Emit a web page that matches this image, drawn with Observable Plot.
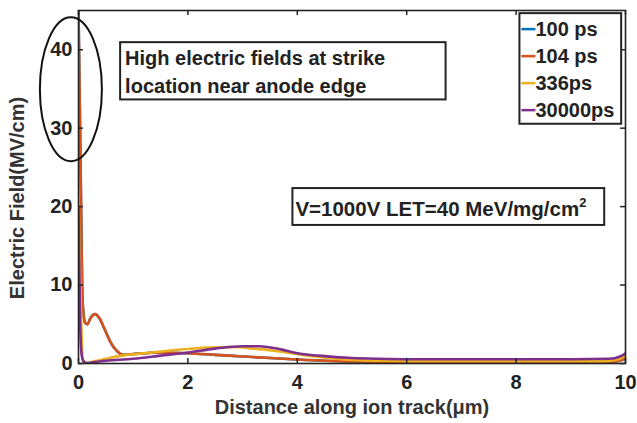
<!DOCTYPE html>
<html><head><meta charset="utf-8">
<script src="https://cdn.jsdelivr.net/npm/d3@7"></script>
<script src="https://cdn.jsdelivr.net/npm/@observablehq/plot@0.6"></script>
<style>body{margin:0;background:#fff} #chart{width:637px;height:423px}</style>
</head><body><div id="chart"></div>
<script>
// ---- data ----
const seriesNames = ["100 ps", "104 ps", "336ps", "30000ps"];
const seriesColors = ["#0072BD", "#D95319", "#EDB120", "#7E2F8E"];

const x100 = [0, 0.035, 0.075, 0.12, 0.16, 0.22, 0.3, 0.38, 0.47, 0.58, 0.7, 0.82, 1.0, 1.5, 2.0, 2.5, 3.0, 3.5, 3.9, 4.5, 5, 6, 7, 8, 9, 9.6, 9.85, 10];
const y100 = [45, 27, 8, 5.2, 5.0, 5.8, 6.3, 5.8, 4.5, 2.8, 1.6, 1.1, 1.2, 1.4, 1.3, 1.1, 0.9, 0.7, 0.55, 0.35, 0.25, 0.2, 0.2, 0.2, 0.2, 0.2, 0.3, 0.6];

const x104 = [0, 0.035, 0.075, 0.12, 0.16, 0.22, 0.3, 0.38, 0.47, 0.58, 0.7, 0.82, 1.0, 1.5, 2.0, 2.5, 3.0, 3.5, 3.9, 4.5, 5, 6, 7, 8, 9, 9.6, 9.85, 10];
const y104 = [45, 27, 8, 5.2, 5.0, 5.8, 6.3, 5.8, 4.5, 2.8, 1.6, 1.1, 1.2, 1.4, 1.3, 1.1, 0.9, 0.7, 0.55, 0.35, 0.25, 0.2, 0.2, 0.2, 0.2, 0.2, 0.3, 0.6];

const x336 = [0, 0.04, 0.08, 0.15, 0.3, 0.5, 0.8, 1.2, 1.6, 2.0, 2.5, 2.8, 3.2, 3.6, 3.9, 4.3, 4.8, 5.5, 6, 7, 8, 9, 9.6, 9.85, 10];
const y336 = [21, 8, 0.5, 0.1, 0.3, 0.6, 1.0, 1.3, 1.6, 1.85, 2.05, 2.1, 1.9, 1.6, 1.3, 0.9, 0.55, 0.35, 0.3, 0.3, 0.3, 0.3, 0.3, 0.5, 1.0];

const x30000 = [0, 0.03, 0.06, 0.1, 0.15, 0.3, 0.5, 1.0, 1.5, 2.0, 2.5, 3.0, 3.3, 3.7, 4.0, 4.4, 5.0, 5.5, 6, 7, 8, 9, 9.7, 9.9, 10];
const y30000 = [20, 5, 1, 0.2, 0.05, 0.2, 0.35, 0.6, 1.0, 1.4, 1.9, 2.2, 2.2, 1.8, 1.3, 1.0, 0.7, 0.6, 0.55, 0.55, 0.55, 0.55, 0.6, 0.9, 1.3];

const xTicks = [0, 2, 4, 6, 8, 10];
const yTicks = [0, 10, 20, 30, 40];
const xLabel = "Distance along ion track(\u03BCm)";
const yLabel = "Electric Field(MV/cm)";
const note1 = ["High electric fields at strike", "location near anode edge"];
const note2 = "V=1000V LET=40 MeV/mg/cm";

// build a long table for the library
const xs = [x100, x104, x336, x30000];
const ys = [y100, y104, y336, y30000];
const rows = [];
seriesNames.forEach((s, i) => xs[i].forEach((x, j) => rows.push({series: s, x, y: ys[i][j]})));

const FONT = "Liberation Sans, Arial, Helvetica, sans-serif";
const ink = "#222";

const chart = Plot.plot({
  width: 637, height: 423,
  marginLeft: 78, marginRight: 12, marginTop: 10, marginBottom: 60,
  x: {domain: [0, 10]},
  y: {domain: [0, 45]},
  color: {domain: seriesNames, range: seriesColors},
  style: {fontFamily: FONT, background: "#fff", color: ink},
  marks: [
    Plot.line(rows, {x: "x", y: "y", z: "series", stroke: "series", strokeWidth: 2.6, curve: "monotone-x", clip: true}),
    // inward ticks (bottom/top/left/right)
    Plot.ruleX(xTicks, {x: d => d, y1: 0, y2: 0.65, stroke: ink, strokeWidth: 1.5}),
    Plot.ruleX(xTicks, {x: d => d, y1: 45, y2: 44.35, stroke: ink, strokeWidth: 1.5}),
    Plot.ruleY(yTicks, {y: d => d, x1: 0, x2: 0.09, stroke: ink, strokeWidth: 1.5}),
    Plot.ruleY(yTicks, {y: d => d, x1: 10, x2: 9.91, stroke: ink, strokeWidth: 1.5}),
    Plot.axisX(xTicks, {tickSize: 0, tickPadding: 11, fontSize: 20, fontWeight: "bold", label: null, fill: ink}),
    Plot.axisY(yTicks, {tickSize: 0, tickPadding: 6, fontSize: 20, fontWeight: "bold", label: null, fill: ink}),
    Plot.frame({stroke: ink, strokeWidth: 1.6}),
    Plot.text([xLabel], {text: d => d, frameAnchor: "bottom", dy: 50, fontSize: 20, fontWeight: "bold", fill: "#333"}),
    Plot.text([yLabel], {text: d => d, frameAnchor: "left", textAnchor: "middle", rotate: -90, dx: -61, dy: 11, fontSize: 20, fontWeight: "bold", fill: "#333"})
  ]
});
document.getElementById("chart").append(chart);

// ---- annotations, ellipse and legend drawn with the chart's scales ----
const sx = chart.scale("x"), sy = chart.scale("y");
const X = v => sx.apply(v), Y = v => sy.apply(v);
const svg = d3.select(chart);
const g = svg.append("g").attr("font-family", FONT).attr("font-weight", "bold").attr("text-anchor", "start");

// box 1
g.append("rect").attr("x", X(0.77)).attr("y", Y(40.9)).attr("width", X(6.72) - X(0.77)).attr("height", Y(33.6) - Y(40.9))
  .attr("fill", "#fff").attr("stroke", ink).attr("stroke-width", 2);
note1.forEach((t, i) => g.append("text").attr("x", X(0.77) + 5).attr("y", Y(40.9) + 23 + i * 28)
  .attr("font-size", 20).attr("fill", "#222").text(t));

// box 2
g.append("rect").attr("x", X(3.92)).attr("y", Y(22.3)).attr("width", X(9.62) - X(3.92)).attr("height", Y(17.6) - Y(22.3))
  .attr("fill", "#fff").attr("stroke", ink).attr("stroke-width", 2);
const t2 = g.append("text").attr("x", X(3.92) + 3).attr("y", Y(22.3) + 28).attr("font-size", 20.5).attr("fill", "#222");
t2.append("tspan").text(note2);
t2.append("tspan").attr("dy", -9).attr("font-size", 13).text("2");

// ellipse round the strike location
g.append("ellipse").attr("cx", X(-0.13)).attr("cy", Y(34.9)).attr("rx", 31).attr("ry", 72)
  .attr("fill", "none").attr("stroke", "#111").attr("stroke-width", 2);

// legend
const lx = X(8.07), ly = Y(44.6), lw = X(9.93) - X(8.07), lh = Y(30.5) - Y(44.6);
g.append("rect").attr("x", lx).attr("y", ly).attr("width", lw).attr("height", lh)
  .attr("fill", "#fff").attr("stroke", ink).attr("stroke-width", 2);
seriesNames.forEach((s, i) => {
  const yy = ly + 16 + i * 27;
  g.append("line").attr("x1", lx + 2).attr("x2", lx + 16).attr("y1", yy).attr("y2", yy)
    .attr("stroke", seriesColors[i]).attr("stroke-width", 2.5);
  g.append("text").attr("x", lx + 16).attr("y", yy + 7).attr("font-size", 20).attr("fill", "#222").text(s);
});
</script>
</body></html>
